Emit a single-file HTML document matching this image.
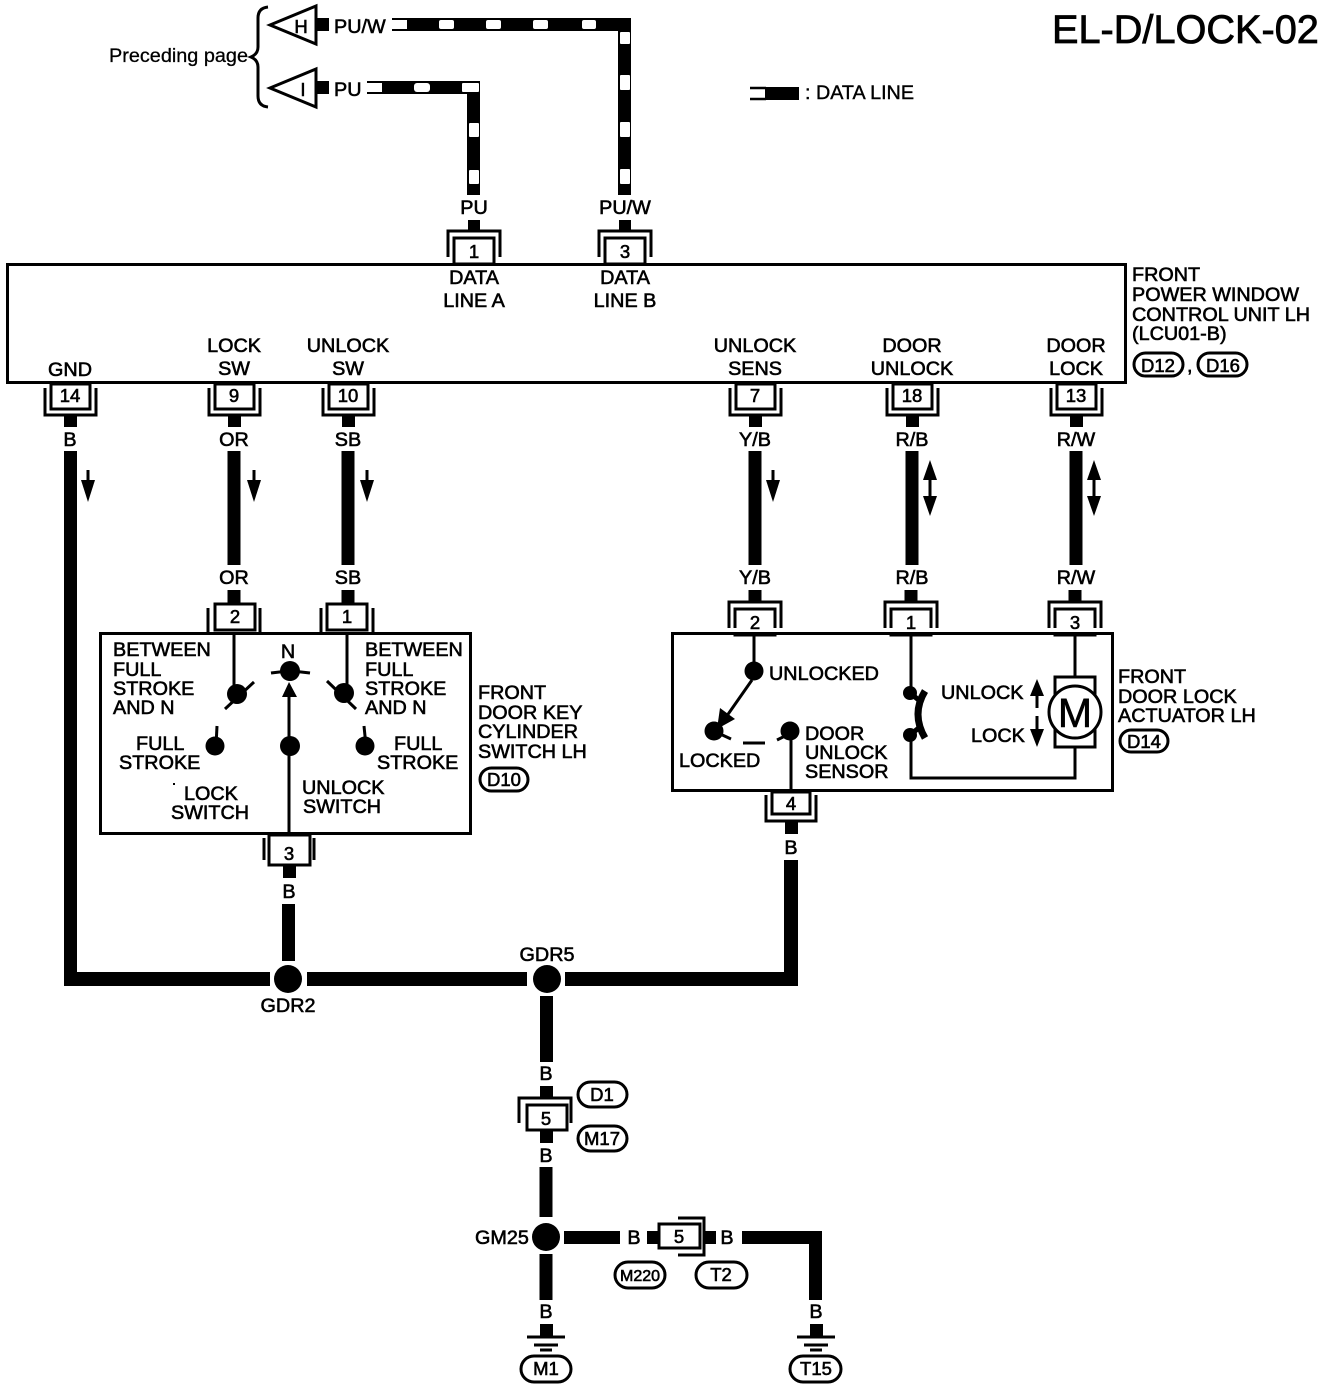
<!DOCTYPE html>
<html><head><meta charset="utf-8"><style>
html,body{margin:0;padding:0;background:#fff}
svg{display:block}
text{font-family:"Liberation Sans",sans-serif;font-size:19.8px;fill:#000;stroke:#000;stroke-width:.6}
.m{text-anchor:middle}
.n{font-size:18.5px}
.w{stroke:#000;stroke-width:13;fill:none}
.t{stroke:#000;stroke-width:3;fill:none}
.h{fill:#fff;stroke:none}
.pill{fill:#fff;stroke:#000;stroke-width:3}
</style></head><body>
<svg width="1344" height="1390" viewBox="0 0 1344 1390" xmlns="http://www.w3.org/2000/svg">
<defs>
<g id="ct"><path class="t" d="M-26 26V0H26V26"/><rect x="-20" y="7" width="40" height="26" fill="#fff" stroke="#000" stroke-width="3"/></g>
<g id="cb"><path class="t" d="M-25 4V31H26V4"/><rect x="-19" y="0" width="39" height="25" fill="#fff" stroke="#000" stroke-width="3"/></g>
<g id="ad"><path class="t" d="M0 0V20"/><path d="M-7 10H7L0 32Z"/></g>
<g id="aa"><path d="M0 0L7 20H-7Z"/><path d="M0 56L7 36H-7Z"/><path class="t" d="M0 10V46"/></g>
<g id="gnd"><path class="t" d="M-19 0H19"/><path d="M-12 8H12" class="t" stroke-width="2"/><path d="M-6 13H6" class="t" stroke-width="2"/></g>
</defs>

<text x="1052" y="43" style="font-size:39.7px;stroke-width:.8">EL-D/LOCK-02</text>

<!-- preceding page -->
<text x="109" y="62" textLength="139" lengthAdjust="spacingAndGlyphs" style="stroke-width:.3">Preceding page</text>
<path class="t" d="M268 7Q258 8 258 18V47Q258 54 251 57Q258 60 258 67V96Q258 106 268 107"/>
<path d="M270 25L316 6V44Z" fill="#fff" stroke="#000" stroke-width="3"/>
<path d="M270 88L316 69V107Z" fill="#fff" stroke="#000" stroke-width="3"/>
<text x="301" y="33" class="m n">H</text><text x="303" y="96" class="m n">I</text>
<rect x="317" y="18" width="12" height="13"/><rect x="317" y="81" width="12" height="13"/>
<text x="334" y="33">PU/W</text><text x="334" y="96">PU</text>

<!-- data lines -->
<path class="t" style="stroke-width:2" d="M407 19H392M407 30H392M382 82H367M382 93H367"/>
<path d="M407 18H631V195H618V31H407Z"/>
<rect x="439" y="20" width="15" height="9" rx="2" class="h"/><rect x="486" y="20" width="15" height="9" rx="2" class="h"/><rect x="533" y="20" width="15" height="9" rx="2" class="h"/><rect x="582" y="20" width="14" height="9" rx="2" class="h"/>
<rect x="620" y="32" width="10" height="12" rx="1" class="h"/><rect x="620" y="75" width="10" height="15" rx="1" class="h"/><rect x="620" y="122" width="10" height="15" rx="1" class="h"/><rect x="620" y="169" width="10" height="15" rx="1" class="h"/>
<path d="M382 81H480V195H467V94H382Z"/>
<rect x="414" y="83" width="16" height="9" rx="3" class="h"/><rect x="462" y="83" width="17" height="9" rx="1" class="h"/>
<rect x="469" y="123" width="10" height="14" rx="1" class="h"/><rect x="469" y="170" width="10" height="14" rx="1" class="h"/>

<!-- legend -->
<path class="t" style="stroke-width:2.5" d="M750 88H766M750 99H766"/>
<rect x="765" y="87" width="34" height="13"/>
<text x="805" y="99" textLength="109" lengthAdjust="spacingAndGlyphs" style="stroke-width:.4">: DATA LINE</text>

<!-- top connectors -->
<text x="474" y="214" class="m">PU</text><text x="625" y="214" class="m">PU/W</text>
<rect x="468" y="220" width="12" height="11"/><rect x="619" y="220" width="12" height="11"/>
<use href="#ct" x="474" y="231"/><use href="#ct" x="625" y="231"/>

<!-- main box -->
<rect x="7.500" y="264.500" width="1118" height="118" fill="#fff" stroke="#000" stroke-width="3"/>
<text x="474" y="258" class="m n">1</text><text x="625" y="258" class="m n">3</text>
<text x="474" y="284" class="m">DATA</text><text x="474" y="307" class="m">LINE A</text>
<text x="625" y="284" class="m">DATA</text><text x="625" y="307" class="m">LINE B</text>
<text x="70" y="376" class="m">GND</text>
<text x="234" y="352" class="m">LOCK</text><text x="234" y="375" class="m">SW</text>
<text x="348" y="352" class="m">UNLOCK</text><text x="348" y="375" class="m">SW</text>
<text x="755" y="352" class="m">UNLOCK</text><text x="755" y="375" class="m">SENS</text>
<text x="912" y="352" class="m">DOOR</text><text x="912" y="375" class="m">UNLOCK</text>
<text x="1076" y="352" class="m">DOOR</text><text x="1076" y="375" class="m">LOCK</text>
<text x="1132" y="281">FRONT</text><text x="1132" y="301">POWER WINDOW</text><text x="1132" y="321">CONTROL UNIT LH</text><text x="1132" y="340">(LCU01-B)</text>
<rect x="1134" y="353" width="49" height="23" rx="11.500" class="pill"/><text x="1158" y="372" class="m n">D12</text>
<text x="1187" y="372">,</text>
<rect x="1198" y="353" width="49" height="23" rx="11.500" class="pill"/><text x="1223" y="372" class="m n">D16</text>

<!-- bottom connectors of main box -->
<use href="#cb" x="70" y="384"/><use href="#cb" x="234" y="384"/><use href="#cb" x="348" y="384"/>
<use href="#cb" x="755" y="384"/><use href="#cb" x="912" y="384"/><use href="#cb" x="1076" y="384"/>
<text x="70" y="402" class="m n">14</text><text x="234" y="402" class="m n">9</text><text x="348" y="402" class="m n">10</text>
<text x="755" y="402" class="m n">7</text><text x="912" y="402" class="m n">18</text><text x="1076" y="402" class="m n">13</text>
<g>
<rect x="64" y="415" width="13" height="12"/><rect x="228" y="415" width="13" height="12"/><rect x="342" y="415" width="13" height="12"/>
<rect x="749" y="415" width="13" height="12"/><rect x="906" y="415" width="13" height="12"/><rect x="1070" y="415" width="13" height="12"/>
</g>
<text x="70" y="446" class="m">B</text><text x="234" y="446" class="m">OR</text><text x="348" y="446" class="m">SB</text>
<text x="755" y="446" class="m">Y/B</text><text x="912" y="446" class="m">R/B</text><text x="1076" y="446" class="m">R/W</text>

<!-- vertical wires -->
<rect x="64" y="451" width="13" height="535"/>
<rect x="64" y="972" width="206" height="14"/>
<rect x="307" y="972" width="220" height="14"/>
<rect x="565" y="972" width="233" height="14"/>
<rect x="784" y="860" width="14" height="126"/>
<path class="w" d="M234 451V565M348 451V565M755 451V565M912 451V565M1076 451V565"/>
<use href="#ad" x="88" y="470"/><use href="#ad" x="254" y="470"/><use href="#ad" x="367" y="470"/><use href="#ad" x="773" y="470"/>
<use href="#aa" x="930" y="460"/><use href="#aa" x="1094" y="460"/>
<text x="234" y="584" class="m">OR</text><text x="348" y="584" class="m">SB</text>
<text x="755" y="584" class="m">Y/B</text><text x="912" y="584" class="m">R/B</text><text x="1076" y="584" class="m">R/W</text>
<path class="w" d="M234 590V603M348 590V603M755 590V603M911 590V603M1075 590V603"/>

<!-- left box -->
<rect x="100.500" y="633.500" width="370" height="200" fill="#fff" stroke="#000" stroke-width="3"/>
<path class="t" d="M208 608V633M260 608V633M321 608V633M373 608V633"/>
<rect x="215" y="604" width="40" height="26" fill="#fff" stroke="#000" stroke-width="3"/>
<rect x="327" y="604" width="40" height="26" fill="#fff" stroke="#000" stroke-width="3"/>
<text x="235" y="623" class="m n">2</text><text x="347" y="623" class="m n">1</text>
<path class="t" d="M234 633V694M347 633V693M289 697V834"/>
<circle cx="237" cy="694" r="10"/><path class="t" d="M225 709L254 682"/>
<circle cx="344" cy="693" r="10"/><path class="t" d="M327 681L356 709"/>
<circle cx="215" cy="746" r="9.500"/><path class="t" d="M216 746L217 726"/>
<circle cx="365" cy="746" r="9.500"/><path class="t" d="M366 746L364 726"/>
<circle cx="290" cy="671" r="10"/><path class="t" d="M271 673Q290 670 310 673"/>
<path d="M289 682L297 697H282Z"/>
<circle cx="290" cy="746" r="10"/>
<text x="113" y="656">BETWEEN</text><text x="113" y="676">FULL</text><text x="113" y="695">STROKE</text><text x="113" y="714">AND N</text>
<text x="365" y="656">BETWEEN</text><text x="365" y="676">FULL</text><text x="365" y="695">STROKE</text><text x="365" y="714">AND N</text>
<text x="288" y="658" class="m">N</text>
<text x="136" y="750">FULL</text><text x="119" y="769">STROKE</text>
<text x="394" y="750">FULL</text><text x="377" y="769">STROKE</text>
<rect x="173" y="783" width="2" height="2"/>
<text x="184" y="800">LOCK</text><text x="171" y="819">SWITCH</text>
<text x="302" y="794">UNLOCK</text><text x="303" y="813">SWITCH</text>
<text x="478" y="699">FRONT</text><text x="478" y="719">DOOR KEY</text><text x="478" y="738">CYLINDER</text><text x="478" y="758">SWITCH LH</text>
<rect x="480" y="768" width="48" height="23" rx="11.500" class="pill"/><text x="504" y="786" class="m n">D10</text>
<path class="t" d="M264 838V860M314 838V860"/>
<rect x="269" y="835" width="41" height="30" fill="#fff" stroke="#000" stroke-width="3"/>
<text x="289" y="860" class="m n">3</text>
<rect x="283" y="866" width="13" height="12"/>
<text x="289" y="898" class="m">B</text>
<rect x="282" y="904" width="13" height="57"/>

<!-- right box -->
<rect x="672.500" y="633.500" width="440" height="157" fill="#fff" stroke="#000" stroke-width="3"/>
<use href="#ct" x="755" y="602"/><use href="#ct" x="911" y="602"/><use href="#ct" x="1075" y="602"/>
<rect x="733" y="628" width="44" height="4" class="h"/><rect x="889" y="628" width="44" height="4" class="h"/><rect x="1053" y="628" width="44" height="4" class="h"/>
<path class="t" d="M672 633.500H1113"/>
<text x="755" y="629" class="m n">2</text><text x="911" y="629" class="m n">1</text><text x="1075" y="629" class="m n">3</text>
<path class="t" d="M754 633V671M752 680L724 720M791 731V791"/>
<circle cx="754" cy="671" r="9.500"/>
<path d="M717 729L720 708L735 719Z"/>
<circle cx="714" cy="731" r="9.500"/><path class="t" d="M718 733L731 739"/>
<path class="t" d="M743 743H765"/>
<circle cx="790" cy="731" r="9.500"/><path class="t" d="M777 740L785 736"/>
<text x="769" y="680">UNLOCKED</text><text x="679" y="767">LOCKED</text>
<text x="805" y="740">DOOR</text><text x="805" y="759">UNLOCK</text><text x="805" y="778">SENSOR</text>
<path class="t" d="M911 633V695M911 734V778H1075V747M1075 633V677"/>
<circle cx="910" cy="693" r="7"/><circle cx="910" cy="735" r="7"/>
<path d="M925 691Q911 714 925 738" fill="none" stroke="#000" stroke-width="7"/>
<path d="M910 693L920 701M910 735L920 727" fill="none" stroke="#000" stroke-width="5"/>
<rect x="1055" y="677" width="40" height="70" fill="#fff" stroke="#000" stroke-width="3"/>
<circle cx="1075" cy="712" r="26" fill="#fff" stroke="#000" stroke-width="3"/>
<text x="1075" y="727" class="m" style="font-size:41px">M</text>
<text x="941" y="699">UNLOCK</text><text x="971" y="742">LOCK</text>
<path d="M1037 679L1044 696H1030Z"/><path class="t" d="M1037 690V708"/>
<path d="M1037 747L1044 729H1030Z"/><path class="t" d="M1037 716V735"/>
<text x="1118" y="683">FRONT</text><text x="1118" y="703">DOOR LOCK</text><text x="1118" y="722">ACTUATOR LH</text>
<rect x="1120" y="730" width="48" height="22" rx="11" class="pill"/><text x="1144" y="748" class="m n">D14</text>
<path class="t" d="M766 795V821H816V795"/>
<rect x="772" y="792" width="38" height="22" fill="#fff" stroke="#000" stroke-width="3"/>
<text x="791" y="810" class="m n">4</text>
<rect x="785" y="822" width="13" height="12"/>
<text x="791" y="854" class="m">B</text>

<!-- junctions -->
<circle cx="288" cy="979" r="14"/><circle cx="547" cy="979" r="14"/>
<text x="288" y="1012" class="m">GDR2</text><text x="547" y="961" class="m">GDR5</text>
<rect x="540" y="996" width="13" height="66"/>
<text x="546" y="1080" class="m">B</text>
<rect x="540" y="1086" width="13" height="12"/>
<path class="t" d="M519 1123V1098H571V1123"/>
<rect x="527" y="1105" width="40" height="25" fill="#fff" stroke="#000" stroke-width="3"/>
<text x="546" y="1125" class="m n">5</text>
<rect x="540" y="1131" width="13" height="12"/>
<text x="546" y="1162" class="m">B</text>
<path class="w" d="M546 1167V1217M546 1254V1300"/>
<rect x="578" y="1082" width="49" height="25" rx="12.500" class="pill"/><text x="602" y="1101" class="m n">D1</text>
<rect x="578" y="1126" width="49" height="25" rx="12.500" class="pill"/><text x="602" y="1145" class="m n">M17</text>
<circle cx="546" cy="1237" r="14"/>
<text x="475" y="1244">GM25</text>
<rect x="564" y="1231" width="56" height="13"/>
<text x="634" y="1244" class="m">B</text>
<rect x="647" y="1231" width="12" height="13"/>
<path class="t" d="M678 1218H704V1255H678"/>
<rect x="659" y="1224" width="41" height="24" fill="#fff" stroke="#000" stroke-width="3"/>
<text x="679" y="1243" class="m n">5</text>
<rect x="704" y="1231" width="12" height="13"/>
<text x="727" y="1244" class="m">B</text>
<path class="w" d="M742 1237.500H815.500V1300"/>
<rect x="615" y="1262" width="50" height="26" rx="13" class="pill"/><text x="640" y="1281" class="m" style="font-size:16px">M220</text>
<rect x="696" y="1262" width="51" height="26" rx="13" class="pill"/><text x="721" y="1281" class="m n">T2</text>
<text x="546" y="1318" class="m">B</text><text x="816" y="1318" class="m">B</text>
<rect x="540" y="1324" width="13" height="12"/><rect x="810" y="1324" width="13" height="12"/>
<use href="#gnd" x="546" y="1337"/><use href="#gnd" x="816" y="1337"/>
<rect x="521" y="1356" width="50" height="26" rx="13" class="pill"/><text x="546" y="1375" class="m n">M1</text>
<rect x="790" y="1356" width="51" height="26" rx="13" class="pill"/><text x="816" y="1375" class="m n">T15</text>
</svg>
</body></html>
